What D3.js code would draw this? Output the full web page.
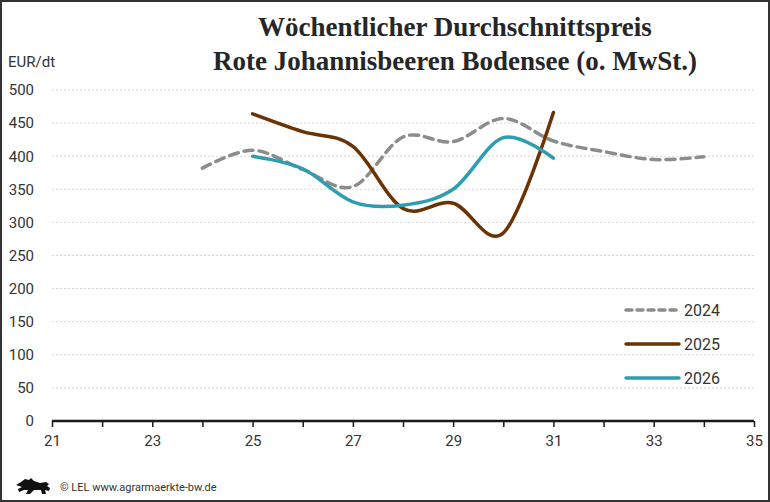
<!DOCTYPE html>
<html>
<head>
<meta charset="utf-8">
<script src="https://cdn.jsdelivr.net/npm/d3@7"></script>
<style>
  body { margin: 0; background: #fff; }
  svg { display: block; }
</style>
</head>
<body>
<div id="chart"></div>
<script>
const W = 770, H = 502
const margin = ({ top: 90, right: 16, bottom: 81, left: 52 })
const width = W - margin.left - margin.right
const height = H - margin.top - margin.bottom

const titleLines = ['Wöchentlicher Durchschnittspreis', 'Rote Johannisbeeren Bodensee (o. MwSt.)']
const unitLabel = 'EUR/dt'
const yTicks = [0, 50, 100, 150, 200, 250, 300, 350, 400, 450, 500]
const xTickLabels = [21, 23, 25, 27, 29, 31, 33, 35]

const weeks2024 = [24, 25, 26, 27, 28, 29, 30, 31, 32, 33, 34]
const prices2024 = [382, 409, 380, 354, 429, 422, 457, 423, 407, 395, 399]
const weeks2025 = [25, 26, 27, 28, 29, 30, 31]
const prices2025 = [464, 437, 415, 321, 329, 284, 466]
const weeks2026 = [25, 26, 27, 28, 29, 30, 31]
const prices2026 = [400, 381, 331, 326, 350, 428, 397]

const series = [
	{ name: '2024', weeks: weeks2024, values: prices2024, color: '#8c8c8c', dash: '9,6' },
	{ name: '2025', weeks: weeks2025, values: prices2025, color: '#6b3203', dash: null },
	{ name: '2026', weeks: weeks2026, values: prices2026, color: '#2e9cb1', dash: null }
]

const sans = 'Roboto, "Liberation Sans", sans-serif'

const root = d3.select('#chart')
	.append('svg')
	.attr('width', W)
	.attr('height', H)

// frame
root.append('rect')
	.attr('x', 1).attr('y', 1)
	.attr('width', W - 2).attr('height', H - 2)
	.attr('fill', 'white')
	.attr('stroke', '#333')
	.attr('stroke-width', 2)

root.append('g')
	.attr('font-family', '"Liberation Serif", "DejaVu Serif", serif')
	.attr('font-weight', 'bold')
	.attr('font-size', 27)
	.attr('fill', '#262626')
	.attr('text-anchor', 'middle')
	.selectAll('text')
	.data(titleLines)
	.join('text')
	.attr('x', 455)
	.attr('y', (d, i) => 36 + i * 34)
	.text(d => d)

root.append('text')
	.attr('x', 8)
	.attr('y', 67)
	.attr('font-family', sans)
	.attr('font-size', 15)
	.attr('fill', '#333')
	.text(unitLabel)

const svg = root.append('g')
	.attr('transform', `translate(${margin.left},${margin.top})`)

const xScale = d3.scaleLinear()
	.domain([21, 35])
	.range([0, width])

const yScale = d3.scaleLinear()
	.domain([0, 500])
	.range([height, 0])

// grid
svg.append('g')
	.selectAll('line')
	.data(yTicks.filter(d => d > 0))
	.join('line')
	.attr('x1', 0)
	.attr('x2', width)
	.attr('y1', d => yScale(d))
	.attr('y2', d => yScale(d))
	.attr('stroke', '#d6d6d6')
	.attr('stroke-dasharray', '2,2')

const yAxis = d3.axisLeft(yScale)
	.tickValues(yTicks)
	.tickSize(0)
	.tickPadding(18)

svg.append('g')
	.attr('class', 'axis y-axis')
	.call(yAxis)
	.call(g => g.select('.domain').remove())
	.selectAll('text')
	.attr('font-family', sans)
	.attr('font-size', 15)
	.attr('fill', '#333')

const xAxis = d3.axisBottom(xScale)
	.tickValues(d3.range(21, 36))
	.tickSize(6)
	.tickPadding(8)
	.tickFormat(d => xTickLabels.includes(d) ? d : '')

svg.append('g')
	.attr('class', 'axis x-axis')
	.attr('transform', `translate(0,${height})`)
	.call(xAxis)
	.call(g => g.select('.domain').attr('stroke', '#1a1a1a').attr('stroke-width', 2.5).attr('d', `M0,0H${width}`))
	.call(g => g.selectAll('.tick line').attr('stroke', '#1a1a1a').attr('stroke-width', 1.5))
	.selectAll('text')
	.attr('font-family', sans)
	.attr('font-size', 15)
	.attr('fill', '#333')

const line = d3.line()
	.curve(d3.curveCatmullRom.alpha(0))
	.x(d => xScale(d[0]))
	.y(d => yScale(d[1]))

svg.append('g')
	.selectAll('path')
	.data(series)
	.join('path')
	.attr('fill', 'none')
	.attr('stroke', d => d.color)
	.attr('stroke-width', 3.5)
	.attr('stroke-dasharray', d => d.dash)
	.attr('stroke-linecap', 'round')
	.attr('stroke-linejoin', 'round')
	.attr('d', d => line(d.weeks.map((w, i) => [w, d.values[i]])))

// legend
const legend = root.append('g')
	.selectAll('g')
	.data(series)
	.join('g')
	.attr('transform', (d, i) => `translate(626,${310 + i * 34})`)

legend.append('line')
	.attr('x1', 0).attr('x2', 53)
	.attr('stroke', d => d.color)
	.attr('stroke-width', 3.5)
	.attr('stroke-dasharray', d => d.dash ? '6,5' : null)
	.attr('stroke-linecap', 'round')

legend.append('text')
	.attr('x', 58)
	.attr('dy', '0.35em')
	.attr('font-family', sans)
	.attr('font-size', 16)
	.attr('fill', '#333')
	.text(d => d.name)

// footer
root.append('path')
	.attr('transform', 'translate(16,478)')
	.attr('fill', '#111')
	.attr('d', 'M0,7 L5,4 L9,1 L13,2 L15,0 L18,3 L24,5 L30,4 L33,6 L31,8 L34,10 L33,13 L29,12 L30,16 L26,16 L25,12 L18,12 L14,16 L10,16 L12,12 L8,12 L3,14 L2,11 L6,9 Z')

root.append('text')
	.attr('x', 60)
	.attr('y', 491)
	.attr('font-family', sans)
	.attr('font-size', 11)
	.attr('fill', '#333')
	.text('© LEL www.agrarmaerkte-bw.de')
</script>
</body>
</html>
